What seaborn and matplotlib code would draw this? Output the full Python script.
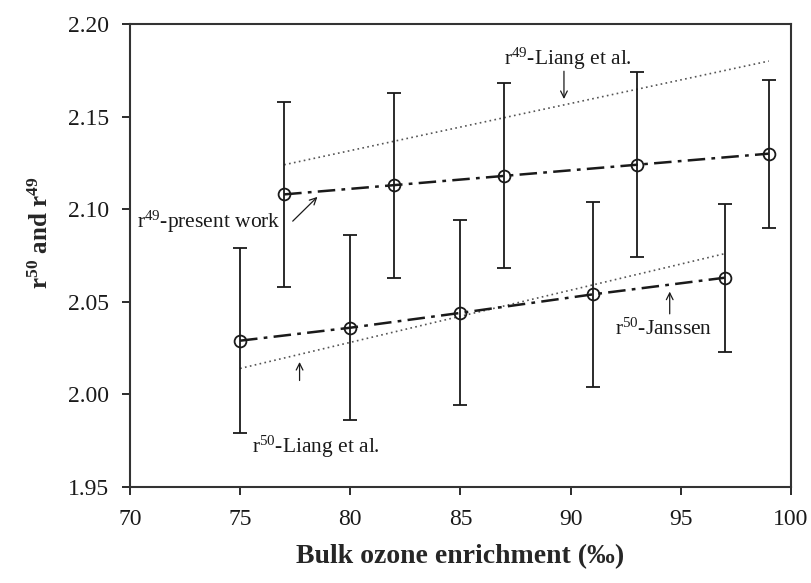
import numpy as np
import pandas as pd
import matplotlib
matplotlib.use("Agg")
import matplotlib.pyplot as plt
import seaborn as sns

# Data
x49 = [77, 82, 87, 93, 99]
r49 = [2.108, 2.113, 2.118, 2.124, 2.130]
err49 = [0.05, 0.05, 0.05, 0.05, 0.04]

x50 = [75, 80, 85, 91, 97]
r50 = [2.029, 2.036, 2.044, 2.054, 2.063]
err50 = [0.05, 0.05, 0.05, 0.05, 0.04]

# Liang et al. lines (end points)
liang49_x = [77, 99]
liang49_y = [2.124, 2.180]
liang50_x = [75, 97]
liang50_y = [2.014, 2.076]

sns.set_style("ticks")
plt.rcParams["font.family"] = ["Liberation Serif", "DejaVu Serif"]
plt.rcParams["mathtext.fontset"] = "custom"
plt.rcParams["mathtext.rm"] = "Liberation Serif"
plt.rcParams["mathtext.bf"] = "Liberation Serif:bold"
plt.rcParams["mathtext.it"] = "Liberation Serif:italic"

ink = "#1a1a1a"
fig = plt.figure(figsize=(8.12, 5.83), dpi=100)
ax = fig.add_axes([0.160, 0.1647, 0.814, 0.7941])

df49 = pd.DataFrame({"x": x49, "y": r49})
df50 = pd.DataFrame({"x": x50, "y": r50})
dl49 = pd.DataFrame({"x": liang49_x, "y": liang49_y})
dl50 = pd.DataFrame({"x": liang50_x, "y": liang50_y})

# Liang et al. dotted lines
sns.lineplot(data=dl49, x="x", y="y", ax=ax, color="#555555", lw=1.2,
             linestyle=(0, (1, 2)))
sns.lineplot(data=dl50, x="x", y="y", ax=ax, color="#555555", lw=1.2,
             linestyle=(0, (1, 2)))

# present work / Janssen dash-dot lines
sns.lineplot(data=df49, x="x", y="y", ax=ax, color=ink, lw=1.8,
             linestyle=(0, (7, 2.5, 1.5, 2.5)))
sns.lineplot(data=df50, x="x", y="y", ax=ax, color=ink, lw=1.8,
             linestyle=(0, (7, 2.5, 1.5, 2.5)))

# error bars and open circles
for xs, ys, es in [(x49, r49, err49), (x50, r50, err50)]:
    ax.errorbar(xs, ys, yerr=es, fmt="o", ms=8.5, mfc="none", mec=ink, mew=1.3,
                ecolor=ink, elinewidth=1.3, capsize=5, capthick=1.3, zorder=5)

ax.set_xlim(70, 100)
ax.set_ylim(1.95, 2.20)
ax.set_xticks(np.arange(70, 101, 5))
ax.set_yticks(np.arange(1.95, 2.201, 0.05))
ax.set_yticklabels([f"{v:.2f}" for v in np.arange(1.95, 2.201, 0.05)])
ax.tick_params(axis="both", direction="out", length=6, width=1.3,
               labelsize=17, colors=ink)
ax.tick_params(axis="x", pad=10)
ax.tick_params(axis="y", pad=9)
ax.tick_params(top=False, right=False)
for s in ax.spines.values():
    s.set_visible(True)
    s.set_linewidth(1.5)
    s.set_color("#333333")

ax.set_xlabel("Bulk ozone enrichment (\u2030)", fontsize=20, fontweight="bold",
              labelpad=10)
ax.set_ylabel(r"$\mathbf{r^{50}}$ and $\mathbf{r^{49}}$", fontsize=18,
              fontweight="bold")
ax.yaxis.set_label_coords(-0.117, 0.55)

# annotations
tfs = 15.5
arrow = dict(arrowstyle="->", color=ink, lw=0.9, mutation_scale=12)
ax.text(87.0, 2.178, r"r$^{49}$-Liang et al.", fontsize=tfs, color=ink)
ax.annotate("", xy=(89.7, 2.158), xytext=(89.7, 2.176), arrowprops=arrow)

ax.text(70.3, 2.090, r"r$^{49}$-present work", fontsize=tfs, color=ink)
ax.annotate("", xy=(78.6, 2.1077), xytext=(77.3, 2.0925), arrowprops=arrow)

ax.text(92.0, 2.032, r"r$^{50}$-Janssen", fontsize=tfs, color=ink)
ax.annotate("", xy=(94.5, 2.057), xytext=(94.5, 2.042), arrowprops=arrow)

ax.text(75.55, 1.9684, r"r$^{50}$-Liang et al.", fontsize=tfs, color=ink)
ax.annotate("", xy=(77.7, 2.019), xytext=(77.7, 2.006), arrowprops=arrow)

fig.savefig("out.png", dpi=100)
